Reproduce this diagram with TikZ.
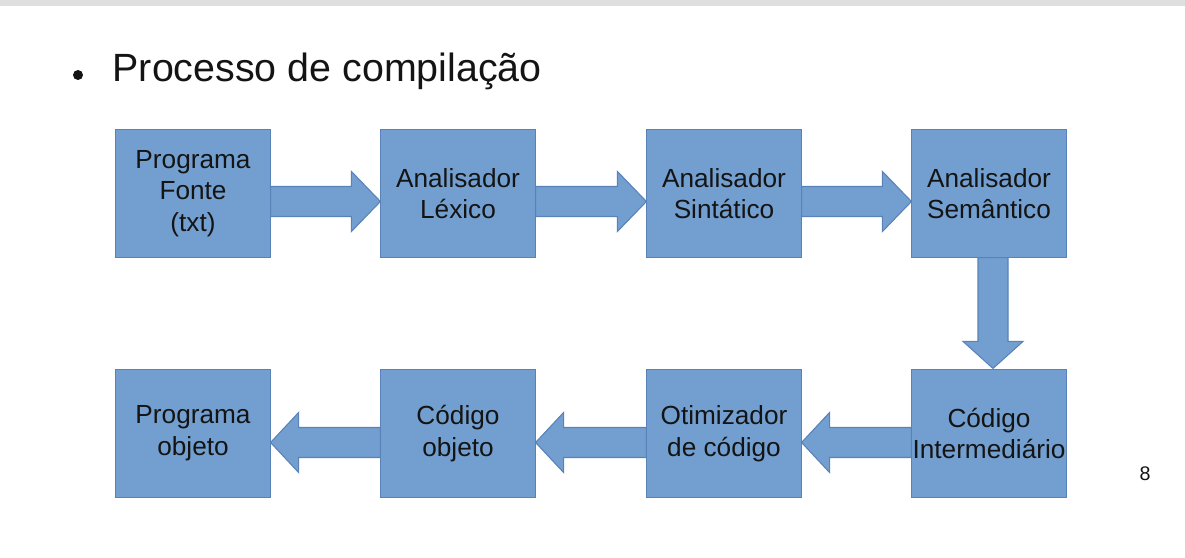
\documentclass[tikz,border=0pt]{standalone}
\usepackage{fontspec}
\setmainfont{Liberation Sans}
\usetikzlibrary{calc}
\definecolor{stepblue}{RGB}{114,159,207}
\definecolor{stepedge}{RGB}{88,130,184}
\definecolor{textblack}{RGB}{20,20,20}
\tikzset{
  stage/.style={
    rectangle,
    fill=stepblue,
    draw=stepedge,
    line width=0.3pt,
    minimum width=1.54cm,
    minimum height=1.27cm,
    inner sep=0pt,
    align=center,
    text=textblack,
    font=\fontsize{7.45}{9}\selectfont
  },
  arrow-fill/.style={
    fill=stepblue,
    draw=stepedge,
    line width=0.3pt,
    line join=miter
  },
  slide-title/.style={anchor=base west, inner sep=0pt, text=textblack, font=\fontsize{11.2}{13}\selectfont},
  page-num/.style={inner sep=0pt, text=textblack, font=\fontsize{5.6}{7}\selectfont}
}
\newcommand{\slideframe}{
  \useasboundingbox (0,0) rectangle (1185,558);
  \fill[white] (0,0) rectangle (1185,558);
  \fill[gray!25] (0,0) rectangle (1185,6);
}
% block arrows: shaft half width 15, head half width 30, head length 29
\newcommand{\arrowright}[2]{
  \filldraw[arrow-fill] ($(#1.east)+(0,-7)$) -- ($(#2.west)+(-29,-7)$)
    -- ($(#2.west)+(-29,-22)$) -- ($(#2.west)+(0,8)$)
    -- ($(#2.west)+(-29,38)$) -- ($(#2.west)+(-29,23)$)
    -- ($(#1.east)+(0,23)$) -- cycle;
}
\newcommand{\arrowleft}[2]{
  \filldraw[arrow-fill] ($(#1.west)+(0,-6)$) -- ($(#2.east)+(28,-6)$)
    -- ($(#2.east)+(28,-21)$) -- ($(#2.east)+(0,9)$)
    -- ($(#2.east)+(28,39)$) -- ($(#2.east)+(28,24)$)
    -- ($(#1.west)+(0,24)$) -- cycle;
}
\newcommand{\arrowdown}[2]{
  \filldraw[arrow-fill] ($(#1.south)+(-11,0)$) -- ($(#2.north)+(-11,-28)$)
    -- ($(#2.north)+(-26,-28)$) -- ($(#2.north)+(4,-1)$)
    -- ($(#2.north)+(34,-28)$) -- ($(#2.north)+(19,-28)$)
    -- ($(#1.south)+(19,0)$) -- cycle;
}
\begin{document}
\begin{tikzpicture}[x=0.01cm, y=-0.01cm]
  \slideframe

  % --- Title ---
  \fill[textblack] (78,75) circle (5);
  \node[slide-title] (title) at (112,82) {Processo de compilação};

  % --- Top row ---
  \node[stage] (fonte) at (193,193.5) {Programa\\Fonte\\(txt)};
  \node[stage] (lexico) at (458,193.5) {Analisador\\Léxico};
  \node[stage] (sintatico) at (724,193.5) {Analisador\\Sintático};
  \node[stage] (semantico) at (989,193.5) {Analisador\\Semântico};

  % --- Bottom row ---
  \node[stage] (intermediario) at (989,433.5) {Código\\Intermediário};
  \node[stage] (otimizador) at (724,433.5) {Otimizador\\de código};
  \node[stage] (codobjeto) at (458,433.5) {Código\\objeto};
  \node[stage] (progobjeto) at (193,433.5) {Programa\\objeto};

  % --- Arrows ---
  \arrowright{fonte}{lexico}
  \arrowright{lexico}{sintatico}
  \arrowright{sintatico}{semantico}
  \arrowdown{semantico}{intermediario}
  \arrowleft{intermediario}{otimizador}
  \arrowleft{otimizador}{codobjeto}
  \arrowleft{codobjeto}{progobjeto}

  % page number
  \node[page-num] (page) at (1145,474) {8};
\end{tikzpicture}
\end{document}
